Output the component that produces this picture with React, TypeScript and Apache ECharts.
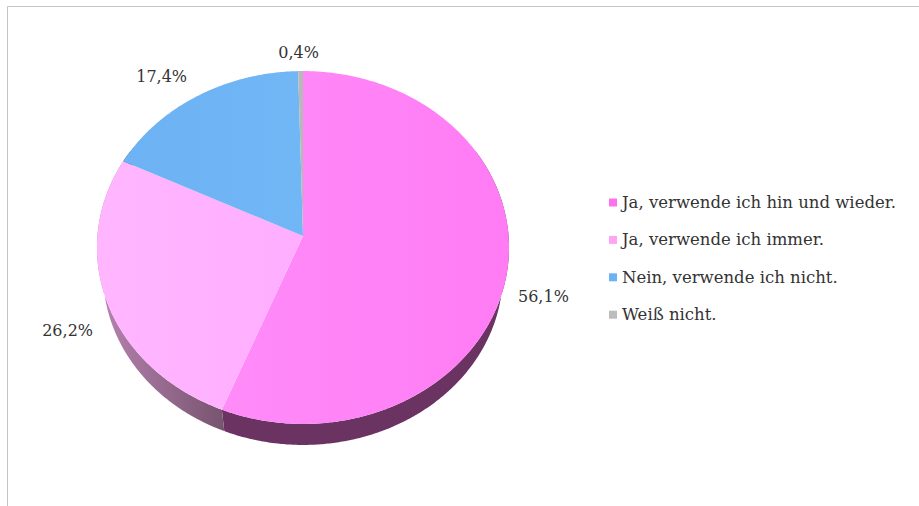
import React, { useEffect, useRef } from "react";
import * as echarts from "echarts";

const categories = [
  "Ja, verwende ich hin und wieder.",
  "Ja, verwende ich immer.",
  "Nein, verwende ich nicht.",
  "Weiß nicht.",
];
const values = [56.1, 26.2, 17.4, 0.4];
const valueLabels = ["56,1%", "26,2%", "17,4%", "0,4%"];
const legendColors = ["#ff72ee", "#ffa4f4", "#6eb2f2", "#bcbcbc"];
const topStops = [
  ["#ff92fb", "#ff7cf4"],
  ["#ffb6ff", "#ffa6ff"],
  ["#6cb2f4", "#76baf6"],
  ["#b8b8b8", "#b8b8b8"],
];
const wallStops = [
  ["#6a3362", "#6a3362"],
  ["#b580ae", "#76546e"],
  ["#444", "#444"],
  ["#444", "#444"],
];
const labelOffsets = [
  [36, 27],
  [-39, 30],
  [-36, -19],
  [-2, -19],
];

const FONT = "'DejaVu Serif', serif";
const APEX_X = 303;
const APEX_Y = 236;
const RX = 205.6;
const RY = 175.7;
const PERSP = -0.0652;
const TOTAL = values.reduce((a, b) => a + b, 0);

// projection of a point on the tilted disc
const project = (deg: number, k = 1) => {
  const t = (deg * Math.PI) / 180;
  const u = -Math.cos(t);
  const d = 1 + PERSP * u;
  return [APEX_X + (RX * k * Math.sin(t)) / d, APEX_Y + (RY * u) / d];
};
const projectBottom = (deg: number) => {
  const p = project(deg);
  return [APEX_X + (p[0] - APEX_X) * 0.97, p[1] * 0.97 + 33.7];
};
const sample = (a: number, b: number, f: (d: number) => number[]) => {
  const out: number[][] = [];
  const n = Math.max(2, Math.ceil(Math.abs(b - a) * 2));
  for (let i = 0; i <= n; i++) out.push(f(a + ((b - a) * i) / n));
  return out;
};
const grad = (stops: string[], x0: number, x1: number) =>
  new echarts.graphic.LinearGradient(
    x0, 0, x1, 0,
    [{ offset: 0, color: stops[0] }, { offset: 1, color: stops[1] }],
    true
  );

const renderSlice = (i: number) => (_p: any, api: any) => {
  const start = (api.value(0) / TOTAL) * 360;
  const end = start + (api.value(1) / TOTAL) * 360;
  const pts = sample(start, end, (d) => project(d));
  const children: any[] = [];
  const wA = Math.max(start, 60);
  const wB = Math.min(end, 300);
  if (wB > wA) {
    const topArc = sample(wA, wB, (d) => project(d));
    const botArc = sample(wA, wB, projectBottom).reverse();
    children.push({
      type: "polygon",
      z2: 0,
      shape: { points: topArc.concat(botArc) },
      style: { fill: grad(wallStops[i], 105, 225) },
    });
  }
  children.push({
    type: "polygon",
    z2: 1,
    shape: { points: [[APEX_X, APEX_Y], ...pts] },
    style: { fill: grad(topStops[i], 100, 500) },
  });
  const mid = project((start + end) / 2);
  children.push({
    type: "text",
    z2: 2,
    style: {
      text: valueLabels[i],
      x: mid[0] + labelOffsets[i][0],
      y: mid[1] + labelOffsets[i][1],
      fill: "#333",
      font: `16px ${FONT}`,
      align: "center",
      verticalAlign: "middle",
    },
  });
  return { type: "group", children };
};

export default function App() {
  const ref = useRef<HTMLDivElement>(null);
  useEffect(() => {
    const chart = echarts.init(ref.current!, undefined, { renderer: "svg" });
    let cum = 0;
    const series = categories.map((name, i) => {
      const start = cum;
      cum += values[i];
      return {
        type: "custom",
        name,
        coordinateSystem: "none",
        renderItem: renderSlice(i),
        itemStyle: { color: legendColors[i] },
        silent: true,
        data: [[start, values[i]]],
      };
    });
    chart.setOption({
      animation: false,
      backgroundColor: "#fff",
      legend: {
        orient: "vertical",
        left: 604,
        top: 189,
        icon: "rect",
        itemWidth: 8,
        itemHeight: 8,
        itemGap: 20.4,
        data: categories,
        selectedMode: false,
        textStyle: { fontFamily: FONT, fontSize: 16.5, color: "#333" },
      },
      graphic: [
        { type: "line", shape: { x1: 7.5, y1: 6.5, x2: 919, y2: 6.5 }, style: { stroke: "#c4c4c4", lineWidth: 1 } },
        { type: "line", shape: { x1: 7.5, y1: 6.5, x2: 7.5, y2: 506 }, style: { stroke: "#c4c4c4", lineWidth: 1 } },
      ],
      series,
    });
    return () => chart.dispose();
  }, []);
  return <div ref={ref} style={{ position: "absolute", left: 0, top: 0, width: 919, height: 506 }} />;
}
